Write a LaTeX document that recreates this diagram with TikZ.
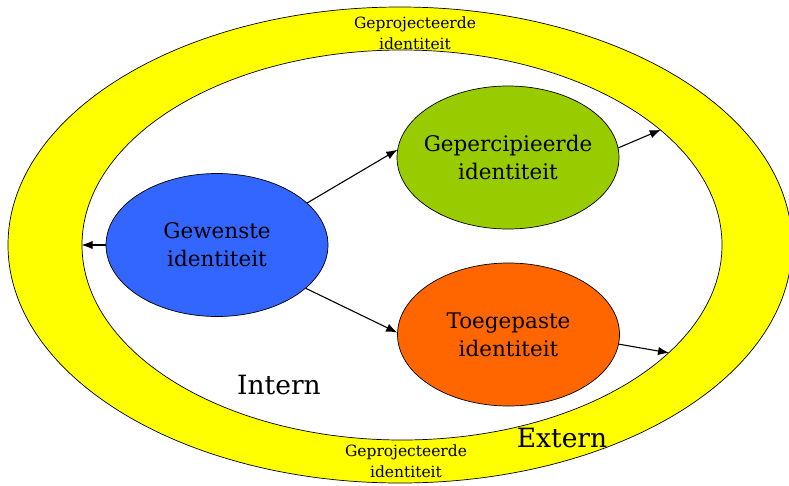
\documentclass[tikz,border=0pt]{standalone}
\usepackage{fontspec}
\setmainfont{DejaVu Serif}
\usetikzlibrary{shapes.geometric,arrows.meta}
\definecolor{ringyellow}{HTML}{FFFF00}
\definecolor{wishblue}{HTML}{3366FF}
\definecolor{percgreen}{HTML}{99CC00}
\definecolor{applorange}{HTML}{FF6600}
\tikzset{
  blob/.style={ellipse, draw=black, line width=0.7pt, inner sep=0pt,
    minimum width=222pt, minimum height=143pt},
  blobtext/.style={align=center, inner sep=0pt, font=\fontsize{21.5}{28}\selectfont},
  ring/.style={ellipse, draw=black, line width=0.7pt, inner sep=0pt},
  link/.style={-{Latex[length=11pt,width=8.5pt]}, line width=1.1pt},
  smalllabel/.style={align=center, font=\fontsize{15.5}{21.5}\selectfont},
  biglabel/.style={font=\fontsize{26.5}{30}\selectfont}
}
\begin{document}
\begin{tikzpicture}[x=1pt,y=-1pt]
  \useasboundingbox (0,0) rectangle (789,485);
  \clip (0,0) rectangle (789,485);
  % external ring and internal area
  \node[ring, fill=ringyellow, minimum width=784pt, minimum height=476pt] (outer) at (400,245) {};
  \node[ring, fill=white, minimum width=640pt, minimum height=390pt] (inner) at (402,245) {};
  % the three identities
  \node[blob, fill=wishblue] (wish) at (217,245) {};
  \node[blob, fill=percgreen] (perc) at (508,157.5) {};
  \node[blob, fill=applorange] (appl) at (508.5,334.5) {};
  \node[blobtext] (wishtext) at (wish) {Gewenste\\identiteit};
  \node[blobtext] (perctext) at (perc) {Gepercipieerde\\identiteit};
  \node[blobtext] (appltext) at (appl) {Toegepaste\\identiteit};
  % labels
  \node[smalllabel] (projtop) at (415,33) {Geprojecteerde\\identiteit};
  \node[smalllabel] (projbot) at (406,461) {Geprojecteerde\\identiteit};
  \node[biglabel] (intern) at (279,385) {Intern};
  \node[biglabel] (extern) at (562,438) {Extern};
  % connectors
  \draw[link] (wish.west) -- (inner.west);
  \draw[link] (wish.25) -- (perc.176);
  \draw[link] (wish.-26) -- (appl.179);
  \draw[link] (perc.5) -- (inner.24);
  \draw[link] (appl.-5) -- (inner.-22);
\end{tikzpicture}
\end{document}
